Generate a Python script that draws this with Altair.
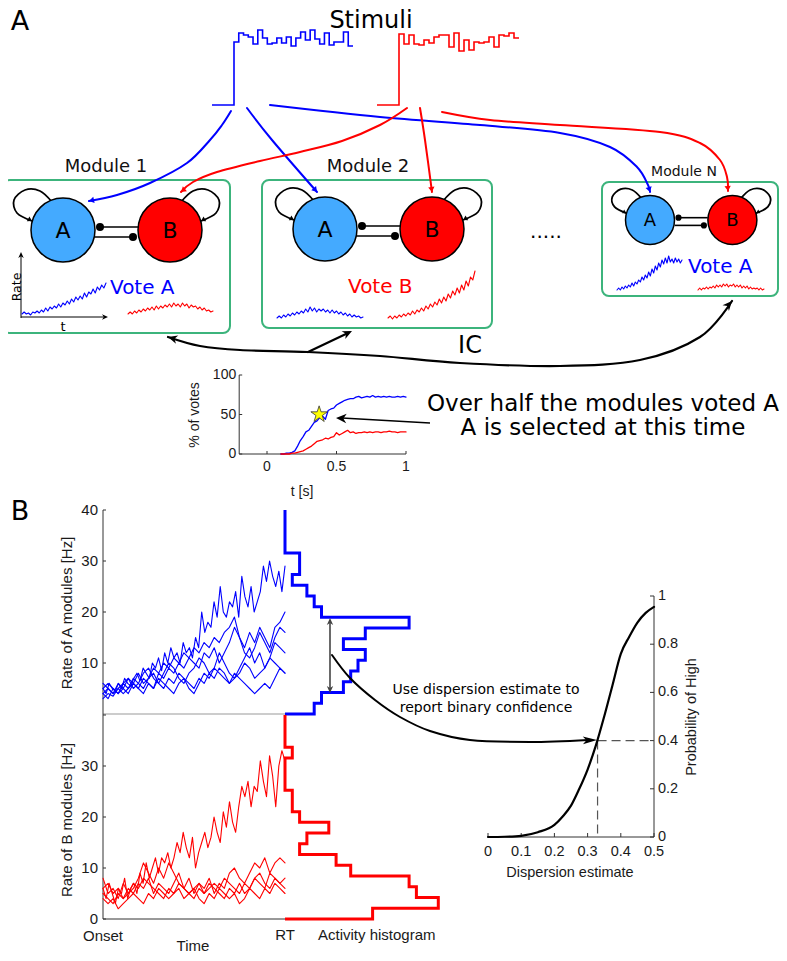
import math
import altair as alt
import pandas as pd

# ======================= DATA =======================
# Stimulus step levels (height above the stimulus baseline)
stim_blue = [63, 72, 70, 68, 61, 75, 67, 61, 62, 67, 62, 68, 59, 67, 73, 65, 75, 66, 61, 72, 60, 63, 63, 73, 59]
stim_red = [71, 61, 70, 61, 60, 65, 62, 68, 70, 70, 58, 72, 54, 65, 55, 63, 62, 63, 68, 58, 70, 69, 72, 67]

# Module mini rate traces (A = blue, B = red)
mod_names = ["Module 1", "Module 2", "Module N"]
mod_votes = ["Vote A", "Vote B", "Vote A"]
m1_blue = [0, 2, 0, 1, -1, 2, 1, 3, 1, 4, 2, 6, 3, 7, 5, 8, 6, 10, 7, 11, 9, 13, 10, 15, 12, 17, 14, 18, 15, 21, 17, 22, 20, 25, 21, 27, 24, 29, 26, 31]
m1_red = [0, 2, 0, 3, 1, 4, 2, 5, 3, 6, 4, 7, 4, 8, 5, 8, 6, 9, 7, 10, 7, 11, 8, 10, 7, 11, 8, 10, 6, 9, 7, 8, 5, 7, 4, 6, 3, 4, 2, 3]
m2_blue = [0, 2, 0, 3, 1, 4, 2, 5, 3, 6, 4, 7, 5, 9, 6, 11, 7, 10, 6, 9, 7, 9, 6, 8, 5, 8, 5, 7, 4, 6, 3, 5, 2, 4, 1, 3, 1, 2, 0, 1]
m2_red = [0, 2, -1, 2, 0, 3, 1, 4, 2, 5, 3, 7, 4, 8, 6, 10, 7, 12, 9, 14, 11, 16, 13, 19, 15, 21, 17, 24, 20, 27, 23, 30, 25, 33, 28, 37, 32, 41, 38, 47]
mN_blue = [0, 2, 0, 3, 1, 4, 2, 5, 3, 7, 4, 8, 6, 10, 8, 13, 10, 15, 12, 18, 14, 21, 17, 24, 20, 27, 23, 30, 26, 32, 27, 34, 28, 31, 27, 32, 28, 31, 27, 30]
mN_red = [0, 2, 0, 2, 1, 3, 1, 3, 2, 4, 2, 5, 3, 5, 3, 6, 4, 6, 3, 5, 4, 6, 3, 5, 3, 5, 2, 4, 2, 4, 1, 3, 1, 2, 1, 2, 0, 2, 0, 1]

# % of votes over time
vote_t = [round(0.10 + 0.02 * i, 2) for i in range(46)]
vote_A = [0, 0, 1, 1, 2, 4, 10, 17, 22, 28, 30, 35, 40, 42, 46, 48, 44, 55, 57, 58, 62, 64, 66, 68, 69, 70, 70, 72, 73, 71,
          72, 73, 72, 74, 72, 73, 72, 73, 72, 73, 72, 72, 73, 72, 73, 72]
vote_B = [0, 0, 0, 0, 1, 1, 2, 3, 4, 6, 8, 10, 13, 16, 17, 18, 20, 19, 21, 22, 27, 24, 26, 28, 30, 27, 28, 26, 27, 27,
          28, 27, 28, 27, 28, 28, 27, 28, 28, 29, 28, 28, 27, 28, 28, 28]
vote_xticks = [0, 0.5, 1]
vote_yticks = [0, 50, 100]
star_t, star_v = 0.375, 50

# Panel B: rates of A and B modules from onset to RT
rate_A = [
    [5, 4, 6, 5, 4.5, 6, 5, 7, 6, 5.5, 7, 8, 6.5, 9, 8, 7, 10, 9, 11, 8.5, 12, 10, 13, 11, 12, 10, 14, 12, 13, 11,
     15, 13, 20, 16, 18, 17, 22, 19, 25, 20, 19, 22, 21, 24, 19, 27, 23, 21, 25, 20, 22, 24, 29, 26, 30, 27, 25, 28, 24, 29],
    [4, 5, 4, 6, 5, 7, 6, 8, 6, 7, 9, 8, 10, 9, 11, 10, 12, 11, 13, 12, 14, 13, 15, 14, 16, 17, 19, 15, 13, 16, 14, 17, 15, 13, 17, 18, 20],
    [3, 4, 3.5, 5, 4, 5, 6, 5, 7, 6, 5, 8, 7, 9, 8, 10, 9, 11, 10, 9, 12, 11, 13, 10, 12, 14, 17, 15, 12, 11, 13, 16, 14, 12, 15, 17, 16],
    [5, 6, 5, 4, 6, 7, 5, 6, 8, 9, 7, 6, 8, 10, 9, 7, 6, 8, 9, 11, 10, 8, 9, 12, 10, 8, 7, 9, 11, 13, 10, 12, 9, 11, 14, 13, 12],
    [6, 5, 4, 5, 6, 5, 7, 6, 5, 7, 8, 6, 5, 7, 6, 8, 7, 5, 4, 6, 8, 7, 9, 8, 7, 6, 8, 7, 6, 5, 4, 5, 6, 5, 7, 9, 8],
    [4, 3, 5, 4, 5, 4, 6, 5, 4, 6, 5, 7, 6, 5, 4, 6, 7, 6, 5, 7, 6, 8, 7, 9, 8, 6, 7, 8, 10, 9, 7, 8, 9, 11, 10, 9, 8],
]
rate_B = [
    [6, 4, 7, 5, 3, 6, 5, 8, 4, 6, 7, 5, 9, 7, 11, 8, 10, 12, 9, 12, 11, 13, 10, 12, 15, 13, 17, 14, 12, 16,
     10, 13, 15, 17, 14, 16, 20, 17, 15, 21, 18, 23, 19, 17, 22, 26, 24, 27, 22, 26, 25, 31, 27, 24, 32, 28, 22, 30, 33, 31],
    [8, 5, 6, 4, 7, 5, 6, 8, 11, 9, 7, 10, 8, 11, 9, 7, 6, 8, 5, 7, 6, 8, 5, 7, 6, 9, 10, 8, 7, 9, 11, 10, 12, 9, 11, 12, 11],
    [5, 4, 3, 5, 4, 6, 5, 7, 6, 8, 5, 7, 6, 5, 7, 9, 6, 5, 4, 6, 5, 7, 6, 5, 4, 6, 5, 7, 5, 6, 8, 7, 6, 9, 8, 7, 8],
    [4, 3, 4, 2, 3, 4, 5, 4, 3, 5, 4, 6, 5, 4, 5, 6, 4, 5, 6, 4, 3, 5, 4, 6, 5, 4, 5, 3, 4, 6, 5, 4, 6, 5, 7, 6, 5],
    [6, 7, 5, 6, 4, 5, 7, 6, 8, 7, 6, 5, 4, 6, 5, 7, 6, 5, 6, 7, 5, 6, 7, 6, 8, 7, 6, 5, 7, 6, 8, 9, 7, 6, 8, 7, 6],
]
rate_ticks_top = [10, 20, 30, 40]
rate_ticks_bot = [0, 10, 20, 30, 40]
rate_max = 40

# Activity histograms at RT (counts per bin, bins of 40/19 Hz from 0 Hz upward)
hist_A = [4, 5, 8, 9, 10, 11, 8, 11, 17, 5, 4, 3, 1, 2, 2, 0, 0, 0, 0]
hist_B = [12, 21, 18, 17, 9, 7, 2, 3, 6, 2, 1, 1, 0, 0, 0, 1, 0, 0, 0]

# Confidence read-out curve
disp = [0, 0.05, 0.1, 0.15, 0.2, 0.225, 0.25, 0.275, 0.3, 0.325, 0.35, 0.375, 0.4, 0.425, 0.45, 0.475, 0.5]
prob = [0, 0.001, 0.005, 0.02, 0.05, 0.085, 0.13, 0.2, 0.28, 0.38, 0.5, 0.63, 0.76, 0.83, 0.89, 0.93, 0.955]
disp_ticks = [0, 0.1, 0.2, 0.3, 0.4, 0.5]
prob_ticks = [0, 0.2, 0.4, 0.6, 0.8, 1]
chosen_disp, chosen_prob = 0.33, 0.4

# ======================= LAYOUT HELPERS =======================
BLUE, RED, LBLUE, GREEN = "#0000ff", "#ff0000", "#44aaff", "#3cb47c"
FD, FH = "DejaVu Sans", "Liberation Sans"
X0, X1, Y0, Y1 = 8, 779, 8, 953


def XE(f="x"):
    return alt.X(f"{f}:Q", scale=alt.Scale(domain=[X0, X1], nice=False, zero=False), axis=None)


def YE(f="y"):
    return alt.Y(f"{f}:Q", scale=alt.Scale(domain=[Y0, Y1], nice=False, zero=False, reverse=True), axis=None)


STYLES = {
    "stimB": (BLUE, 1.6, "linear", None, "butt", "miter"),
    "stimR": (RED, 1.6, "linear", None, "butt", "miter"),
    "connB": (BLUE, 2.0, "cardinal", None, "round", "round"),
    "connR": (RED, 2.0, "cardinal", None, "round", "round"),
    "loop": ("black", 1.8, "cardinal", None, "round", "round"),
    "bline": ("black", 1.6, "linear", None, "butt", "miter"),
    "thin": ("black", 1.0, "linear", None, "butt", "miter"),
    "trB": (BLUE, 1.1, "linear", None, "round", "round"),
    "trR": (RED, 1.1, "linear", None, "round", "round"),
    "axis": ("#333333", 1.0, "linear", None, "butt", "miter"),
    "gray": ("#bbbbbb", 1.5, "linear", None, "butt", "miter"),
    "histB": (BLUE, 3.0, "linear", None, "butt", "miter"),
    "histR": (RED, 3.0, "linear", None, "butt", "miter"),
    "ic": ("black", 2.2, "cardinal", None, "round", "round"),
    "curve": ("black", 2.0, "cardinal", None, "round", "round"),
    "dark": ("#444444", 1.6, "linear", None, "butt", "miter"),
    "dash": ("#555555", 1.2, "linear", [9, 5], "butt", "miter"),
    "sig": ("black", 2.2, "monotone", None, "round", "round"),
    "vtr": (BLUE, 1.3, "linear", None, "round", "round"),
    "vtrR": (RED, 1.3, "linear", None, "round", "round"),
}
line_rows = {k: [] for k in STYLES}
_gid = [0]


def add(style, pts):
    _gid[0] += 1
    for i, (x, y) in enumerate(pts):
        line_rows[style].append(dict(x=x, y=y, g=_gid[0], o=i))


heads = {"tri": [], "barb": [], "narrow": []}


def head(kind, p_prev, p_end, size, color="black"):
    a = math.degrees(math.atan2(p_end[1] - p_prev[1], p_end[0] - p_prev[0])) % 360
    heads[kind].append(dict(x=p_end[0], y=p_end[1], a=a, s=size, c=color))


texts = []


def txt(x, y, t, font=FD, size=14, color="black", align="center", baseline="middle", angle=0):
    texts.append(dict(x=x, y=y, text=t, font=font, size=size, color=color, align=align,
                      baseline=baseline, angle=angle))


circles = []
dots = []

# ======================= PANEL A =======================
txt(20, 22, "A", size=27)
txt(371, 21, "Stimuli", size=24)


def stim_path(levels, x_start, x_rise, base, step):
    pts = [(x_start, base), (x_rise, base)]
    x = x_rise
    for h in levels:
        pts.append((x, base - h))
        x += step
        pts.append((x, base - h))
    return pts


add("stimB", stim_path(stim_blue, 212, 234, 105, 4.76))
add("stimR", stim_path(stim_red, 377, 399, 105, 5.0))

conn_blue = [
    [(231, 111), (222, 125), (210, 140), (187, 163), (150, 183), (117, 195), (89, 201)],
    [(247, 108), (272, 140), (317, 192)],
    [(270, 105), (380, 117), (480, 125), (560, 133), (610, 147), (637, 167), (648, 185), (650, 192)],
]
conn_red = [
    [(407, 108), (380, 125), (342, 141), (300, 152), (260, 161), (217, 172), (193, 182), (181, 192)],
    [(420, 108), (425, 140), (432, 192)],
    [(442, 112), (490, 120), (560, 125), (660, 132), (700, 143), (720, 160), (727, 177), (728, 191)],
]
for pts in conn_blue:
    add("connB", pts)
    head("tri", pts[-2], pts[-1], 40, BLUE)
for pts in conn_red:
    add("connR", pts)
    head("tri", pts[-2], pts[-1], 40, RED)

modules = [
    dict(box=(3, 180, 230, 333), A=(63, 230), s=1.0, r=32, lab=(106, 167), labsize=18, letter=22,
         vote=(110, 288), vcolor=BLUE, bt=(22, 106, 314), rt=(128, 213, 314), tb=m1_blue, tr=m1_red),
    dict(box=(262, 180, 492, 328), A=(325, 229), s=1.0, r=32, lab=(368, 167), labsize=18, letter=22,
         vote=(348, 287), vcolor=RED, bt=(277, 363, 318), rt=(388, 475, 318), tb=m2_blue, tr=m2_red),
    dict(box=(602, 182, 778, 296), A=(650, 220), s=0.77, r=24.5, lab=(684, 172), labsize=14, letter=18,
         vote=(688, 267), vcolor=BLUE, bt=(617, 682, 290), rt=(698, 764, 290), tb=mN_blue, tr=mN_red),
]
loopA = [(-11, -28), (-23, -39), (-38, -40), (-49, -30), (-46, -17), (-31, -9)]
boxes = []
for k, m in enumerate(modules):
    x1, y1, x2, y2 = m["box"]
    boxes.append(dict(x=x1, x2=x2, y=y1, y2=y2))
    s = m["s"]
    ax, ay = m["A"]
    bx, by = ax + 107 * s, ay
    circles.append(dict(x=ax, y=ay, s=(2 * m["r"]) ** 2, c=LBLUE))
    circles.append(dict(x=bx, y=by, s=(2 * m["r"]) ** 2, c=RED))
    txt(ax, ay + 1, "A", size=m["letter"])
    txt(bx, by + 1, "B", size=m["letter"])
    txt(m["lab"][0], m["lab"][1], mod_names[k], size=m["labsize"], color="#111111")
    txt(m["vote"][0], m["vote"][1], mod_votes[k], size=20, color=m["vcolor"], align="left")
    la = [(ax + dx * s, ay + dy * s) for dx, dy in loopA]
    lb = [(bx - dx * s, by + dy * s) for dx, dy in loopA]
    for lp in (la, lb):
        add("loop", lp)
        head("tri", lp[-2], lp[-1], 30 * s * s)
    up = [(ax + 37 * s, ay - 3 * s), (ax + 75 * s, ay - 3 * s)]
    lo = [(ax + 32 * s, ay + 7 * s), (ax + 70 * s, ay + 7 * s)]
    add("bline", up)
    add("bline", lo)
    dots.append(dict(x=up[0][0], y=up[0][1], s=64 * s * s))
    dots.append(dict(x=lo[1][0], y=lo[1][1], s=64 * s * s))
    for style, (tx0, tx1, base), vals in (("trB", m["bt"], m["tb"]), ("trR", m["rt"], m["tr"])):
        n = len(vals)
        add(style, [(tx0 + (tx1 - tx0) * i / (n - 1), base - v) for i, v in enumerate(vals)])

add("thin", [(21, 318), (21, 256)])
head("barb", (21, 318), (21, 252), 36)
add("thin", [(21, 317), (104, 317)])
head("barb", (21, 317), (108, 317), 36)
txt(16.5, 287, "Rate", size=12.5, angle=270)
txt(63, 327, "t", size=13)

txt(546, 238, ".....", size=20, baseline="alphabetic")

ic_pts = [(168, 337), (200, 346), (240, 350), (308, 352), (380, 356), (460, 363), (560, 366), (640, 360),
          (700, 337), (732, 301)]
add("ic", ic_pts)
head("barb", ic_pts[1], ic_pts[0], 90)
head("barb", ic_pts[-2], ic_pts[-1], 90)
add("ic", [(308, 352), (348, 333)])
head("barb", (308, 352), (352, 331), 90)
txt(470, 346, "IC", size=24)


def vx(t):
    return 267 + t * 139


def vy(v):
    return 454 - v * 0.79


add("axis", [(vx(-0.2), vy(100)), (vx(-0.2), vy(0)), (vx(1.0), vy(0))])
for v in vote_yticks:
    add("axis", [(vx(-0.2), vy(v)), (vx(-0.2) + 3, vy(v))])
    txt(vx(-0.2) - 3, vy(v), f"{v:g}", font=FH, size=14, align="right", color="#1a1a1a")
for t in vote_xticks:
    add("axis", [(vx(t), vy(0)), (vx(t), vy(0) - 3)])
    txt(vx(t), 467, f"{t:g}", font=FH, size=14, color="#1a1a1a")
add("vtr", [(vx(t), vy(v)) for t, v in zip(vote_t, vote_A)])
add("vtrR", [(vx(t), vy(v)) for t, v in zip(vote_t, vote_B)])
txt(195, 415, "% of votes", font=FH, size=14, angle=270, color="#1a1a1a")
txt(302, 492, "t [s]", font=FH, size=14, color="#1a1a1a")
star = [dict(x=vx(star_t), y=vy(star_v))]
add("bline", [(430, 423), (342, 418)])
head("barb", (430, 423), (336, 418), 110)
txt(603, 404, "Over half the modules voted A", size=23)
txt(603, 428, "A is selected at this time", size=23)

# ======================= PANEL B =======================
txt(20, 512, "B", size=27)


def rx(f):
    return 103 + f * 182


def ry_top(v):
    return 714 - v * 5.1


def ry_bot(v):
    return 919 - v * 5.1


add("gray", [(rx(0), ry_top(0)), (rx(1), ry_top(0))])
add("axis", [(rx(0), ry_top(40)), (rx(0), ry_bot(0)), (rx(1), ry_bot(0))])
for v in rate_ticks_top:
    add("axis", [(rx(0), ry_top(v)), (rx(0) + 3, ry_top(v))])
    txt(98, ry_top(v), f"{v}", font=FH, size=15, align="right", color="#1a1a1a")
for v in rate_ticks_bot:
    add("axis", [(rx(0), ry_bot(v)), (rx(0) + 3, ry_bot(v))])
    if v < 40:
        txt(98, ry_bot(v), f"{v}", font=FH, size=15, align="right", color="#1a1a1a")
for tr in rate_A:
    n = len(tr)
    add("trB", [(rx(i / (n - 1)), ry_top(v)) for i, v in enumerate(tr)])
for tr in rate_B:
    n = len(tr)
    add("trR", [(rx(i / (n - 1)), ry_bot(v)) for i, v in enumerate(tr)])


def hist_path(counts, yfun, x0):
    bw = rate_max / len(counts)
    pts = [(x0, yfun(rate_max))]
    for i in reversed(range(len(counts))):
        cx = x0 + counts[i] * 7.3
        pts += [(cx, yfun((i + 1) * bw)), (cx, yfun(i * bw))]
    pts.append((x0, yfun(0)))
    return pts


add("histB", hist_path(hist_A, ry_top, rx(1)))
add("histR", hist_path(hist_B, ry_bot, rx(1)))

txt(67, 613, "Rate of A modules [Hz]", font=FH, size=15, angle=270, color="#1a1a1a")
txt(67, 820, "Rate of B modules [Hz]", font=FH, size=15, angle=270, color="#1a1a1a")
txt(rx(0), 936, "Onset", font=FH, size=15, color="#1a1a1a")
txt(rx(1), 935, "RT", font=FH, size=15, color="#1a1a1a")
txt(193, 946, "Time", font=FH, size=15, color="#1a1a1a")
txt(318, 935, "Activity histogram", font=FH, size=15, align="left", color="#1a1a1a")

add("dark", [(330, 622), (330, 689)])
head("barb", (330, 640), (330, 618), 50, "#444444")
head("barb", (330, 670), (330, 693), 50, "#444444")

curve_pts = [(332, 655), (350, 678), (375, 700), (400, 717), (430, 731), (470, 740), (530, 742), (588, 740)]
add("curve", curve_pts)
head("narrow", (560, 741), (597, 740), 200)
txt(486, 690, "Use dispersion estimate to", size=14)
txt(486, 708, "report binary confidence", size=14)


def sx(d):
    return 488 + d * 332


def sy(p):
    return 837 - p * 241


add("axis", [(sx(0), sy(0)), (sx(0.5), sy(0)), (sx(0.5), sy(1))])
for d in disp_ticks:
    add("axis", [(sx(d), sy(0)), (sx(d), sy(0) - 4)])
    txt(sx(d), 852, f"{d:g}", font=FH, size=14.5, color="#1a1a1a")
for p in prob_ticks:
    add("axis", [(sx(0.5), sy(p)), (sx(0.5) - 4, sy(p))])
    txt(658, sy(p), f"{p:g}", font=FH, size=14.5, align="left", color="#1a1a1a")
add("dash", [(sx(chosen_disp), sy(chosen_prob)), (sx(0.5), sy(chosen_prob))])
add("dash", [(sx(chosen_disp), sy(chosen_prob)), (sx(chosen_disp), sy(0))])
add("sig", [(sx(d), sy(p)) for d, p in zip(disp, prob)])
txt(570, 873, "Dispersion estimate", font=FH, size=14.5, color="#1a1a1a")
txt(692, 717, "Probability of High", font=FH, size=14.5, angle=270, color="#1a1a1a")

# ======================= BUILD CHART =======================
layers = []
layers.append(alt.Chart(pd.DataFrame(boxes)).mark_rect(fill="transparent", stroke=GREEN, strokeWidth=2,
                                                        cornerRadius=7).encode(
    x=XE(), x2=alt.X2("x2:Q"), y=YE(), y2=alt.Y2("y2:Q")))

order = ["stimB", "stimR", "connB", "connR", "loop", "gray", "axis", "thin", "trB", "trR", "vtr", "vtrR",
         "histB", "histR", "ic", "curve", "dark", "dash", "sig"]
for st in order:
    rows = line_rows[st]
    if not rows:
        continue
    color, w, interp, dash, cap, join = STYLES[st]
    kw = dict(color=color, strokeWidth=w, interpolate=interp, strokeCap=cap, strokeJoin=join)
    if dash:
        kw["strokeDash"] = dash
    layers.append(alt.Chart(pd.DataFrame(rows)).mark_line(**kw).encode(
        x=XE(), y=YE(), detail="g:N", order="o:Q"))

layers.append(alt.Chart(pd.DataFrame(circles)).mark_point(shape="circle", filled=True, opacity=1,
                                                           stroke="black", strokeWidth=1.5).encode(
    x=XE(), y=YE(), size=alt.Size("s:Q", scale=None), fill=alt.Fill("c:N", scale=None)))

rows = line_rows["bline"]
layers.append(alt.Chart(pd.DataFrame(rows)).mark_line(color="black", strokeWidth=1.6).encode(
    x=XE(), y=YE(), detail="g:N", order="o:Q"))
layers.append(alt.Chart(pd.DataFrame(dots)).mark_point(shape="circle", filled=True, opacity=1,
                                                        color="black").encode(
    x=XE(), y=YE(), size=alt.Size("s:Q", scale=None)))

SHAPES = {"tri": "M0,0L-1.6,-1L-1.6,1Z",
          "barb": "M0,0L-2,-0.9L-1.4,0L-2,0.9Z",
          "narrow": "M0,0L-2,-0.55L-1.5,0L-2,0.55Z"}
for kind, rws in heads.items():
    if not rws:
        continue
    layers.append(alt.Chart(pd.DataFrame(rws)).mark_point(shape=SHAPES[kind], filled=True, opacity=1,
                                                           strokeWidth=0).encode(
        x=XE(), y=YE(), angle=alt.Angle("a:Q", scale=None), size=alt.Size("s:Q", scale=None),
        fill=alt.Fill("c:N", scale=None)))

STAR = ("M0,-1L0.225,-0.309L0.951,-0.309L0.363,0.118L0.588,0.809L0,0.382L-0.588,0.809L-0.363,0.118"
        "L-0.951,-0.309L-0.225,-0.309Z")
layers.append(alt.Chart(pd.DataFrame(star)).mark_point(shape=STAR, filled=True, opacity=1, fill="#ffff00",
                                                        stroke="#333333", strokeWidth=0.8, size=300).encode(
    x=XE(), y=YE()))

tdf = pd.DataFrame(texts)
groups = tdf.groupby(["font", "size", "color", "align", "baseline", "angle"], sort=False)
for (font, size, color, align, baseline, angle), g in groups:
    kw = dict(font=font, fontSize=float(size), color=color, align=align, baseline=baseline)
    if angle:
        kw["angle"] = float(angle)
    layers.append(alt.Chart(g[["x", "y", "text"]].reset_index(drop=True)).mark_text(**kw).encode(
        x=XE(), y=YE(), text="text:N"))

chart = alt.layer(*layers).properties(width=771, height=945, padding=0, autosize="none",
                                      background="white").configure_view(strokeWidth=0)
chart.save("out.html", embed_options={"renderer": "svg", "actions": False})
